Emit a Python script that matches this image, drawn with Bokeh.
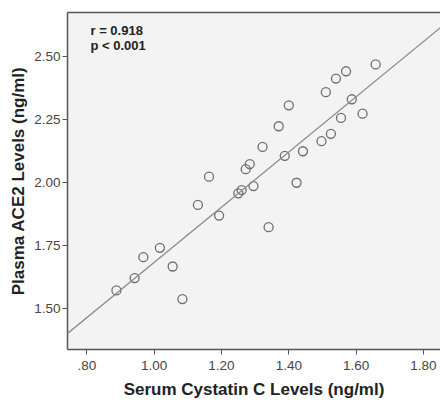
from bokeh.plotting import figure
from bokeh.models import ColumnDataSource, Range1d, FixedTicker, LinearAxis, Slope, Label, CustomJSTickFormatter
from bokeh.embed import file_html
from bokeh.resources import INLINE

# ---- data ----
cystatin_c = [1.658, 1.570, 1.540, 1.510, 1.587, 1.619, 1.555, 1.525, 1.497, 1.400,
              1.370, 1.442, 1.388, 1.322, 1.284, 1.272, 1.163, 1.295, 1.423, 1.260,
              1.250, 1.130, 1.193, 1.340, 1.017, 0.968, 1.055, 0.942, 0.888, 1.084]
ace2 = [2.468, 2.441, 2.412, 2.358, 2.330, 2.273, 2.256, 2.193, 2.164, 2.306,
        2.223, 2.124, 2.106, 2.141, 2.073, 2.053, 2.023, 1.986, 1.999, 1.970,
        1.957, 1.911, 1.869, 1.823, 1.741, 1.704, 1.667, 1.621, 1.572, 1.538]
fit_slope = 1.095
fit_intercept = 0.588
x_ticks = [0.8, 1.0, 1.2, 1.4, 1.6, 1.8]
y_ticks = [1.5, 1.75, 2.0, 2.25, 2.5]
stat_lines = ["r = 0.918", "p < 0.001"]
x_title = "Serum Cystatin C Levels (ng/ml)"
y_title = "Plasma ACE2 Levels (ng/ml)"

FONT = "Liberation Sans"
AXIS_COL = "#555555"

p = figure(width=440, height=403, output_backend="svg", toolbar_location=None,
           x_range=Range1d(0.7427, 1.8505), y_range=Range1d(1.338, 2.674),
           min_border_left=67, min_border_right=0, min_border_top=12, min_border_bottom=54,
           background_fill_color="#f3f3f3", border_fill_color="white")
p.outline_line_color = None
p.grid.visible = False

src = ColumnDataSource(dict(x=cystatin_c, y=ace2))
p.scatter("x", "y", source=src, size=9, fill_color=None, line_color="#6e6e6e", line_width=1.3)

p.add_layout(Slope(gradient=fit_slope, y_intercept=fit_intercept, line_color="#8a8a8a", line_width=1.3))

xa = p.xaxis[0]
xa.ticker = FixedTicker(ticks=x_ticks)
xa.formatter = CustomJSTickFormatter(code="var s = tick.toFixed(2); return s.startsWith('0') ? s.slice(1) : s;")
ya = p.yaxis[0]
ya.ticker = FixedTicker(ticks=y_ticks)
ya.formatter = CustomJSTickFormatter(code="return tick.toFixed(2);")

for ax in (xa, ya):
    ax.axis_line_color = AXIS_COL
    ax.axis_line_width = 1.5
    ax.major_tick_line_color = AXIS_COL
    ax.major_tick_in = 0
    ax.major_tick_out = 5
    ax.minor_tick_line_color = None
    ax.major_label_text_font = FONT
    ax.major_label_text_font_size = "13.5px"
    ax.major_label_text_color = "#454545"
    ax.axis_label_text_font = FONT
    ax.axis_label_text_font_size = "17px"
    ax.axis_label_text_font_style = "bold"
    ax.axis_label_text_color = "#222222"

xa.axis_label = x_title
xa.major_label_standoff = 6
xa.axis_label_standoff = 7
ya.axis_label = y_title
ya.major_label_standoff = 2
ya.axis_label_standoff = 3

top = LinearAxis(ticker=FixedTicker(ticks=[]), axis_line_color=AXIS_COL, axis_line_width=1.5,
                 major_tick_line_color=None, minor_tick_line_color=None,
                 major_label_text_font_size="0px", major_label_standoff=0)
p.add_layout(top, "above")

for i, t in enumerate(stat_lines):
    p.add_layout(Label(x=0.811, y=2.603 - i * 0.058, text=t, text_font=FONT, text_font_size="13px",
                       text_font_style="bold", text_color="#222222", text_baseline="middle"))

open("out.html", "w").write(file_html(p, INLINE))
